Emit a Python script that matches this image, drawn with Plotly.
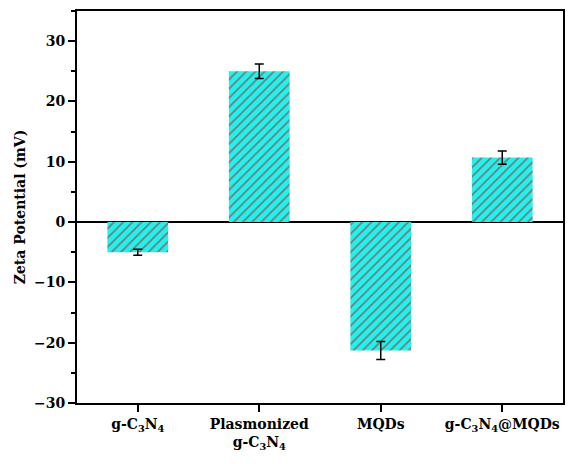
import plotly.graph_objects as go

categories = ["g-C<sub>3</sub>N<sub>4</sub>",
              "Plasmonized<br>g-C<sub>3</sub>N<sub>4</sub>",
              "MQDs",
              "g-C<sub>3</sub>N<sub>4</sub>@MQDs"]
zeta = [-5.0, 25.0, -21.3, 10.7]
err = [0.5, 1.2, 1.5, 1.1]

x = list(range(len(categories)))

FAM = "DejaVu Serif"

fig = go.Figure()
fig.add_trace(go.Bar(
    x=x, y=zeta, width=0.5,
    marker=dict(color="#22f2ee", line=dict(width=0),
                pattern=dict(shape="/", bgcolor="#22f2ee", fgcolor="#757575",
                             size=6.5, solidity=0.25, fillmode="replace")),
    error_y=dict(type="data", array=err, color="black", thickness=1.5, width=4.5),
))

fig.update_layout(
    width=568, height=464,
    margin=dict(l=77, r=5, t=11, b=61),
    plot_bgcolor="white", paper_bgcolor="white",
    showlegend=False,
    font=dict(family=FAM, size=14, color="black"),
    xaxis=dict(
        range=[-0.5, 3.5], tickmode="array", tickvals=x, ticktext=["<b>%s</b>" % c for c in categories],
        showline=True, linecolor="black", linewidth=2, mirror=True,
        ticks="outside", ticklen=7, tickwidth=2, tickcolor="black", automargin=False,
        showgrid=False, zeroline=False, tickfont=dict(family=FAM, size=14),
    ),
    yaxis=dict(
        range=[-30, 35], tickvals=[-30, -20, -10, 0, 10, 20, 30],
        ticktext=["<b>\u221230</b>", "<b>\u221220</b>", "<b>\u221210</b>", "<b>0</b>",
                  "<b>10</b>", "<b>20</b>", "<b>30</b>"],
        showline=True, linecolor="black", linewidth=2, mirror=True,
        ticks="outside", ticklen=7, tickwidth=2, tickcolor="black", automargin=False,
        minor=dict(dtick=5, tick0=0, ticks="outside", ticklen=4, tickwidth=2, tickcolor="black"),
        showgrid=False, zeroline=True, zerolinecolor="black", zerolinewidth=2,
        title=dict(text="<b>Zeta Potential (mV)</b>", font=dict(family=FAM, size=14), standoff=5),
        tickfont=dict(family=FAM, size=14),
    ),
)

fig.write_html("out.html")
